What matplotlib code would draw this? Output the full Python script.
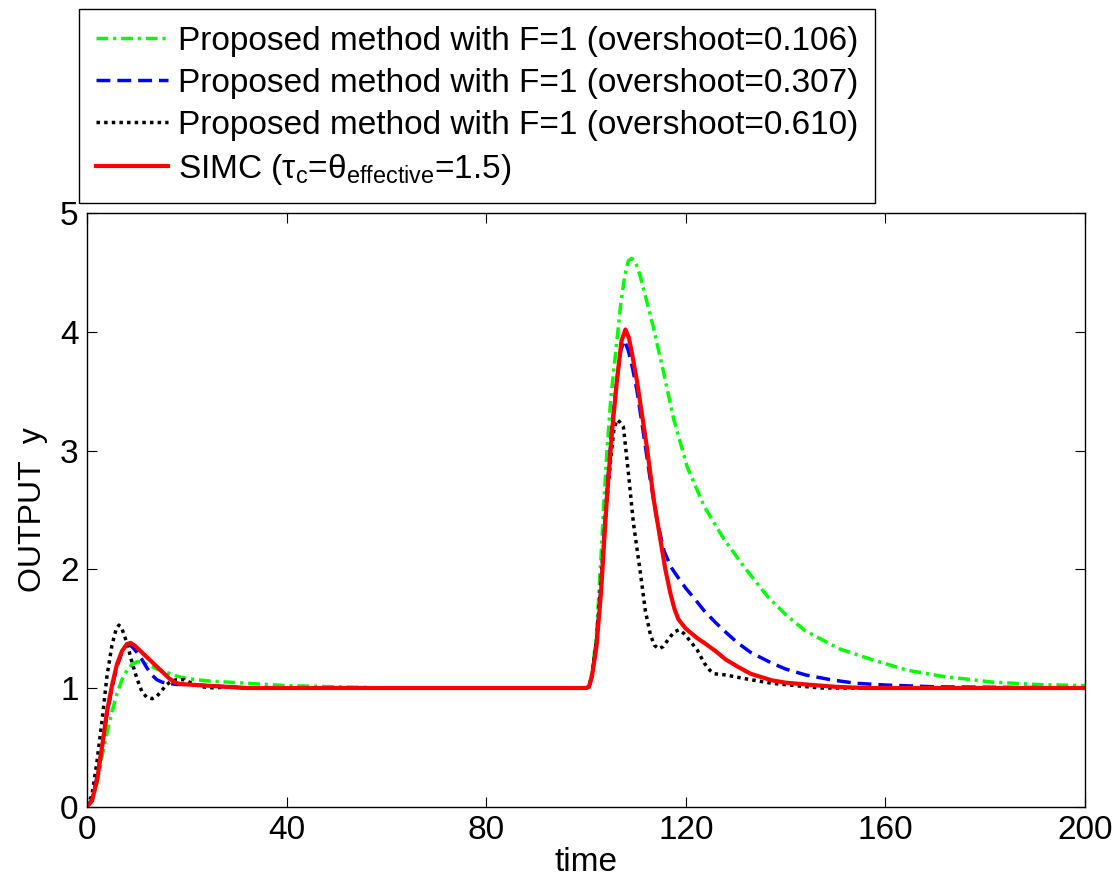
import matplotlib
matplotlib.use('Agg')
import matplotlib.pyplot as plt

plt.rcParams['font.family'] = ['Liberation Sans', 'DejaVu Sans']

# --- data (time, output y) ---
t_green = [0, 1, 2, 3, 4, 5, 6, 7, 8, 9, 10, 11, 12, 14, 16, 18, 20, 24, 28, 32, 40, 50, 60, 100,
           100.6, 101.2, 102.1, 103, 103.5, 104.2, 105, 106.2, 107, 107.8, 108.5, 109.2, 110, 110.8,
           111.6, 112.6, 113.6, 115.6, 117.6, 120.3, 123.7, 127.7, 131.7, 136.4, 140, 144, 150.8,
           157.6, 164.4, 171.2, 181.4, 190, 200]
y_green = [0, 0.05, 0.2, 0.42, 0.62, 0.8, 0.95, 1.07, 1.15, 1.2, 1.22, 1.22, 1.2, 1.16, 1.13, 1.1, 1.08,
           1.06, 1.05, 1.04, 1.02, 1.01, 1.0, 1.0,
           1.01, 1.12, 1.45, 2.1, 2.5, 3.0, 3.45, 3.93, 4.25, 4.48, 4.6, 4.62, 4.58, 4.48,
           4.35, 4.19, 4.02, 3.65, 3.26, 2.86, 2.53, 2.25, 2.02, 1.77, 1.62, 1.48, 1.33,
           1.235, 1.15, 1.1, 1.05, 1.03, 1.02]

t_blue = [0, 1, 2, 3, 4, 5, 6, 7, 8, 8.5, 9, 10, 11, 12, 13, 14, 15, 16, 17, 18, 20, 24, 28, 32, 40, 60, 100,
          100.6, 101.2, 102.1, 103, 104.2, 105.2, 106.2, 107, 107.7, 108.5, 109.3, 110.2, 111.5, 112.9,
          114.2, 115.6, 117, 118.3, 120, 121.6, 123.7, 126, 128, 130.4, 133, 137.2, 140, 144, 149,
          154, 160, 170, 200]
y_blue = [0, 0.06, 0.25, 0.5, 0.78, 1.0, 1.18, 1.3, 1.35, 1.36, 1.35, 1.3, 1.24, 1.17, 1.11, 1.07, 1.05,
          1.04, 1.035, 1.03, 1.03, 1.02, 1.01, 1.0, 1.0, 1.0, 1.0,
          1.01, 1.1, 1.38, 1.85, 2.65, 3.2, 3.6, 3.85, 3.93, 3.84, 3.7, 3.51, 3.15, 2.75,
          2.42, 2.16, 2.02, 1.94, 1.84, 1.76, 1.65, 1.55, 1.47, 1.38, 1.3, 1.21, 1.16, 1.11, 1.07,
          1.04, 1.025, 1.01, 1.0]

t_black = [0, 1, 2, 3, 4, 5, 5.8, 6.4, 7, 8, 9, 10, 11, 12, 13.1, 14, 15, 16, 17, 18, 19.4, 21, 23, 25.5,
           28, 32, 40, 60, 100,
           100.6, 101.2, 102.1, 103, 104, 105, 105.6, 106.2, 106.8, 107.5, 108.5, 109.5, 110.9,
           111.9, 112.9, 113.7, 114.6, 115.5, 116.5, 117.6, 118.6, 119.6, 120.8, 122.3, 123.7, 124.8,
           125.7, 128, 130.4, 133, 137.2, 142, 147, 200]
y_black = [0, 0.1, 0.38, 0.72, 1.1, 1.36, 1.49, 1.53, 1.5, 1.38, 1.22, 1.08, 0.97, 0.92, 0.91, 0.93, 0.98,
           1.03, 1.06, 1.07, 1.07, 1.04, 1.01, 1.0, 1.01, 1.0, 1.0, 1.0, 1.0,
           1.01, 1.12, 1.4, 1.9, 2.5, 2.95, 3.18, 3.26, 3.24, 3.2, 2.81, 2.39, 1.97,
           1.65, 1.45, 1.36, 1.33, 1.35, 1.41, 1.47, 1.49, 1.46, 1.4, 1.32, 1.21, 1.15,
           1.12, 1.11, 1.09, 1.07, 1.04, 1.02, 1.0, 1.0]

t_red = [0, 1, 2, 3, 4, 5, 6, 7, 8, 8.7, 9.5, 10.5, 11.5, 12.5, 13.5, 14.5, 15.5, 16.5, 17.5, 18.5, 20, 24,
         28, 32, 40, 60, 100,
         100.6, 101.2, 102.1, 103, 104.2, 105.2, 106.2, 107.1, 107.9, 108.6, 109.3, 110.2, 111.2, 112.2,
         113.6, 114.9, 115.9, 116.9, 117.7, 118.5, 120, 122.3, 123.7, 126, 128, 130.4, 133, 137.2, 140,
         144, 150, 156, 200]
y_red = [0, 0.05, 0.22, 0.5, 0.8, 1.02, 1.2, 1.31, 1.37, 1.38, 1.36, 1.32, 1.28, 1.24, 1.2, 1.16, 1.12,
         1.08, 1.05, 1.035, 1.03, 1.02, 1.01, 1.0, 1.0, 1.0, 1.0,
         1.01, 1.1, 1.35, 1.8, 2.61, 3.15, 3.59, 3.92, 4.02, 3.95, 3.8, 3.59, 3.31, 3.03,
         2.58, 2.25, 2.0, 1.8, 1.67, 1.58, 1.5, 1.42, 1.38, 1.31, 1.24, 1.18, 1.12, 1.065, 1.045,
         1.03, 1.01, 1.0, 1.0]

labels = ['Proposed method with F=1 (overshoot=0.106)',
          'Proposed method with F=1 (overshoot=0.307)',
          'Proposed method with F=1 (overshoot=0.610)',
          'SIMC (\u03c4$_\\mathregular{c}$=\u03b8$_\\mathregular{effective}$=1.5)']
x_ticks = [0, 40, 80, 120, 160, 200]
y_ticks = [0, 1, 2, 3, 4, 5]

fig = plt.figure(figsize=(11.19, 8.88), dpi=100)
ax = fig.add_axes([87 / 1119, 1 - 806.7 / 888, 998 / 1119, 593.5 / 888])

l1, = ax.plot(t_green, y_green, color=(0, 1, 0), lw=2.5, dashes=(3.4, 1.4, 0.9, 1.4))
l2, = ax.plot(t_blue, y_blue, color=(0, 0, 1), lw=2.5, dashes=(4, 2))
l3, = ax.plot(t_black, y_black, color='k', lw=2.5, dashes=(1, 1.2))
l4, = ax.plot(t_red, y_red, color=(1, 0, 0), lw=3)

ax.set_xlim(0, 200)
ax.set_ylim(0, 5)
ax.set_xticks(x_ticks)
ax.set_yticks(y_ticks)
ax.tick_params(direction='in', length=7, width=0.8, labelsize=24, top=True, right=True, pad=6)
for s in ax.spines.values():
    s.set_linewidth(1)
ax.set_xlabel('time', fontsize=24, labelpad=1)
ax.set_ylabel('OUTPUT  y', fontsize=23, labelpad=9)

fig.legend([l1, l2, l3, l4], labels, loc='upper left', bbox_to_anchor=(79 / 1119, 1 - 9 / 888),
           borderaxespad=0, fontsize=24, handlelength=2.17, handletextpad=0.3, labelspacing=0.33,
           fancybox=False, edgecolor='k', framealpha=1, borderpad=0.5)

fig.savefig('out.png', dpi=100)
